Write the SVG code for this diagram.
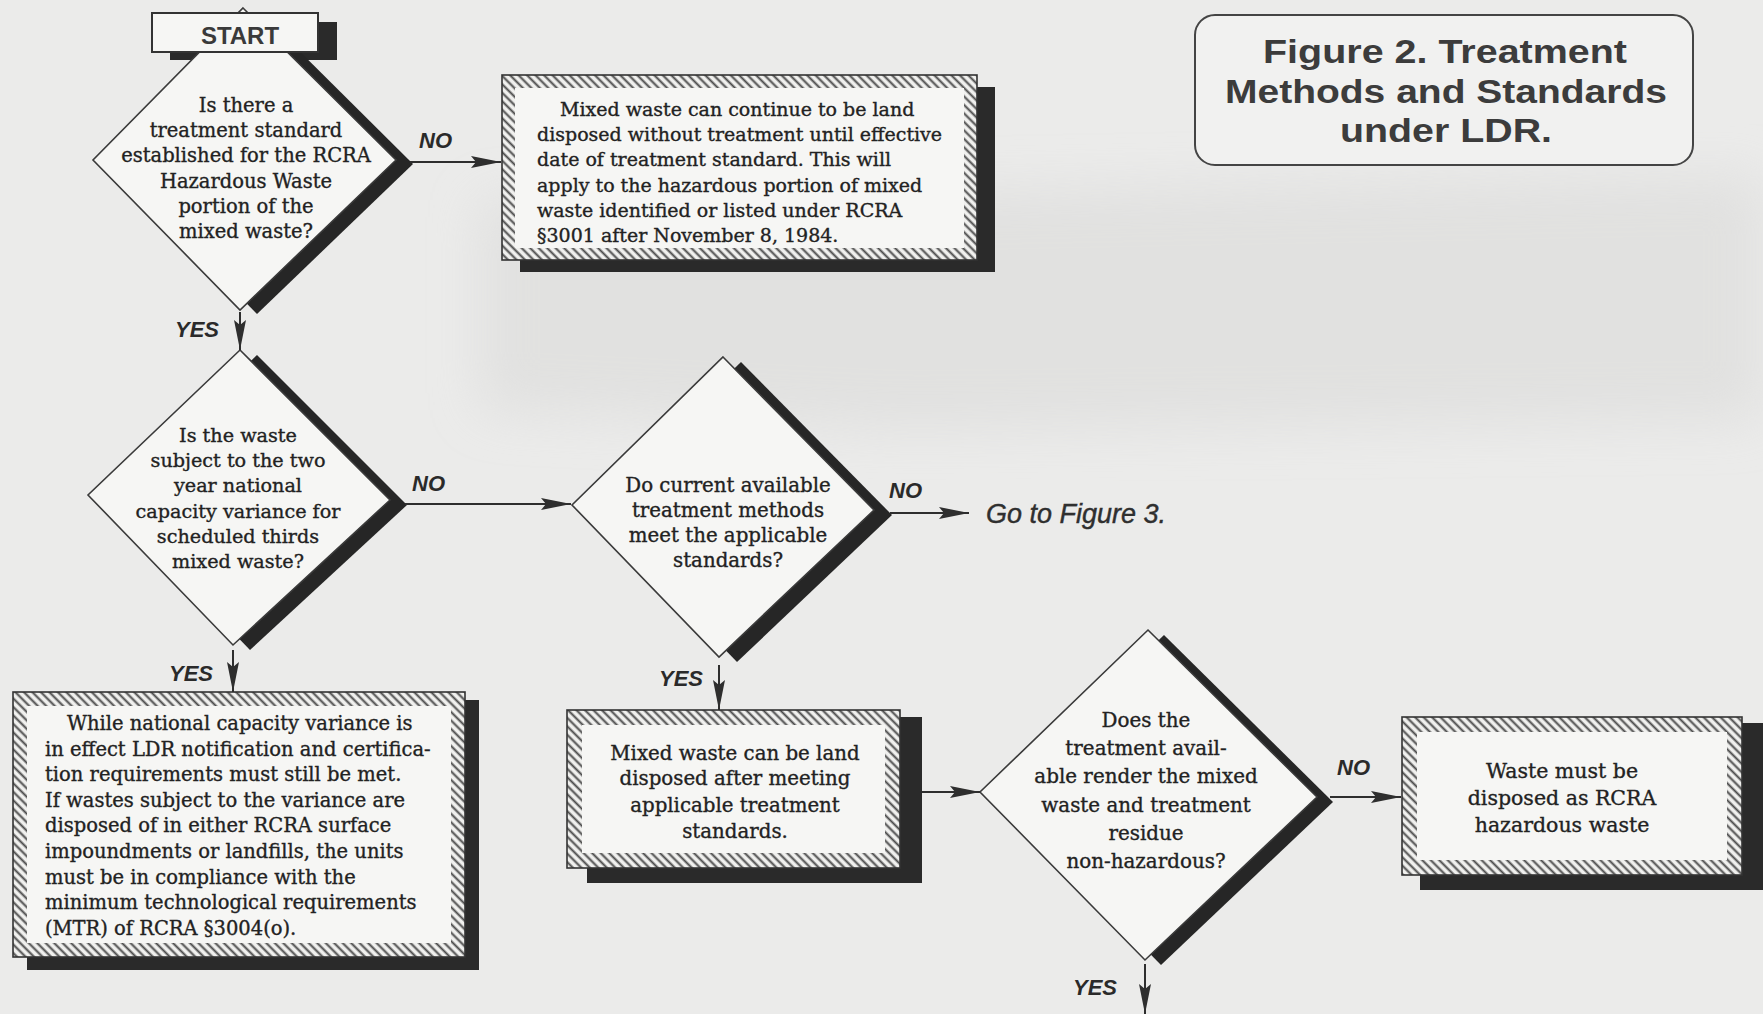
<svg xmlns="http://www.w3.org/2000/svg" width="1763" height="1014" viewBox="0 0 1763 1014">
<style>
.dia{fill:#f6f6f4;stroke:#3a3a3a;stroke-width:1.6}
.dsh{fill:#262626}
.bsh{fill:#2a2a2a}
.hbox{fill:url(#hatch);stroke:#333;stroke-width:1.6}
.inner{fill:#f6f6f4}
.t{font-family:"DejaVu Serif",serif;font-size:19.5px;fill:#222;stroke:#222;stroke-width:0.35}
.c{text-anchor:middle}
.lab{font-family:"Liberation Sans",Arial,sans-serif;font-weight:bold;font-style:italic;font-size:22px;fill:#2a2a2a}
.conn{stroke:#2e2e2e;stroke-width:2;fill:none;marker-end:url(#arr)}
.title{font-family:"Liberation Sans",Arial,sans-serif;font-weight:bold;font-size:33px;fill:#3c3c3c;text-anchor:middle}
</style>
<defs>
<pattern id="hatch" width="6" height="6" patternUnits="userSpaceOnUse" patternTransform="rotate(-45)">
<rect width="6" height="6" fill="#f0f0ee"/>
<line x1="1.5" y1="0" x2="1.5" y2="6" stroke="#4a4a4a" stroke-width="2"/>
</pattern>
<marker id="arr" markerUnits="userSpaceOnUse" markerWidth="32" markerHeight="12" refX="30" refY="6" orient="auto">
<path d="M0,0 L30,6 L0,12 L5,6 z" fill="#2e2e2e"/>
</marker>
<filter id="blur" x="-20%" y="-20%" width="140%" height="140%"><feGaussianBlur stdDeviation="25"/></filter>
</defs>

<rect width="1763" height="1014" fill="#ebebea"/>
<path d="M480,200 L1763,175 L1763,420 L900,430 L480,410 Z" fill="#d9d9d8" opacity="0.55" filter="url(#blur)"/>

<g id="title">
<rect x="1195" y="15" width="498" height="150" rx="20" fill="#f1f1f0" stroke="#444" stroke-width="2"/>
<text class="title" x="1445" y="63" textLength="364" lengthAdjust="spacingAndGlyphs">Figure 2. Treatment</text>
<text class="title" x="1446" y="103" textLength="442" lengthAdjust="spacingAndGlyphs">Methods and Standards</text>
<text class="title" x="1446" y="142" textLength="212" lengthAdjust="spacingAndGlyphs">under LDR.</text>
</g>

<g id="start-shadow"><rect class="bsh" x="170" y="22" width="167" height="38"/></g>

<g id="q1">
<polygon class="dsh" points="243,8 396,160 240,310 93,160" transform="translate(17,4)"/>
<polygon class="dia" points="243,8 396,160 240,310 93,160"/>
<text class="t c" x="246" y="112">Is there a</text>
<text class="t c" x="246" y="137">treatment standard</text>
<text class="t c" x="246" y="162">established for the RCRA</text>
<text class="t c" x="246" y="188">Hazardous Waste</text>
<text class="t c" x="246" y="213">portion of the</text>
<text class="t c" x="246" y="238">mixed waste?</text>
</g>

<g id="start">
<rect x="152" y="13" width="166" height="39" fill="#f6f6f4" stroke="#333" stroke-width="2"/>
<text x="240" y="44" font-family="Liberation Sans, Arial, sans-serif" font-weight="bold" font-size="24" fill="#3a3a3a" text-anchor="middle">START</text>
</g>

<g id="box-continue">
<rect class="bsh" x="520" y="87" width="475" height="185"/>
<rect class="hbox" x="502" y="75" width="475" height="185"/>
<rect class="inner" x="515" y="88" width="449" height="160"/>
<text class="t" x="560" y="116" style="font-size:19px">Mixed waste can continue to be land</text>
<text class="t" x="537" y="141" style="font-size:19px">disposed without treatment until effective</text>
<text class="t" x="537" y="166" style="font-size:19px">date of treatment standard. This will</text>
<text class="t" x="537" y="192" style="font-size:19px">apply to the hazardous portion of mixed</text>
<text class="t" x="537" y="217" style="font-size:19px">waste identified or listed under RCRA</text>
<text class="t" x="537" y="242" style="font-size:19px">§3001 after November 8, 1984.</text>
</g>

<g id="q2">
<polygon class="dsh" points="240,350 390,500 233,645 88,495" transform="translate(17,5)"/>
<polygon class="dia" points="240,350 390,500 233,645 88,495"/>
<text class="t c" x="238" y="442" style="font-size:19.2px">Is the waste</text>
<text class="t c" x="238" y="467" style="font-size:19.2px">subject to the two</text>
<text class="t c" x="238" y="492" style="font-size:19.2px">year national</text>
<text class="t c" x="238" y="518" style="font-size:19.2px">capacity variance for</text>
<text class="t c" x="238" y="543" style="font-size:19.2px">scheduled thirds</text>
<text class="t c" x="238" y="568" style="font-size:19.2px">mixed waste?</text>
</g>

<g id="q3">
<polygon class="dsh" points="723,357 874,510 719,657 572,505" transform="translate(18,5)"/>
<polygon class="dia" points="723,357 874,510 719,657 572,505"/>
<text class="t c" x="728" y="492" style="font-size:19.8px">Do current available</text>
<text class="t c" x="728" y="517" style="font-size:19.8px">treatment methods</text>
<text class="t c" x="728" y="542" style="font-size:19.8px">meet the applicable</text>
<text class="t c" x="728" y="567" style="font-size:19.8px">standards?</text>
</g>

<g id="goto">
<text x="986" y="523" font-family="Liberation Sans, Arial, sans-serif" font-style="italic" font-size="27" fill="#2f2f2f" stroke="#2f2f2f" stroke-width="0.4">Go to Figure 3.</text>
</g>

<g id="box-variance">
<rect class="bsh" x="27" y="700" width="452" height="270"/>
<rect class="hbox" x="13" y="692" width="452" height="265"/>
<rect class="inner" x="27" y="706" width="424" height="237"/>
<text class="t" x="67" y="730">While national capacity variance is</text>
<text class="t" x="45" y="756">in effect LDR notification and certifica-</text>
<text class="t" x="45" y="781">tion requirements must still be met.</text>
<text class="t" x="45" y="807">If wastes subject to the variance are</text>
<text class="t" x="45" y="832">disposed of in either RCRA surface</text>
<text class="t" x="45" y="858">impoundments or landfills, the units</text>
<text class="t" x="45" y="884">must be in compliance with the</text>
<text class="t" x="45" y="909">minimum technological requirements</text>
<text class="t" x="45" y="935">(MTR) of RCRA §3004(o).</text>
</g>

<g id="box-land">
<rect class="bsh" x="587" y="717" width="335" height="166"/>
<rect class="hbox" x="567" y="710" width="333" height="158"/>
<rect class="inner" x="582" y="725" width="303" height="128"/>
<text class="t c" x="735" y="760" style="font-size:19.8px">Mixed waste can be land</text>
<text class="t c" x="735" y="785" style="font-size:19.8px">disposed after meeting</text>
<text class="t c" x="735" y="812" style="font-size:19.8px">applicable treatment</text>
<text class="t c" x="735" y="838" style="font-size:19.8px">standards.</text>
</g>

<g id="q4">
<polygon class="dsh" points="1148,630 1317,797 1145,960 980,792" transform="translate(16,5)"/>
<polygon class="dia" points="1148,630 1317,797 1145,960 980,792"/>
<text class="t c" x="1146" y="727" style="font-size:19.9px">Does the</text>
<text class="t c" x="1146" y="755" style="font-size:19.9px">treatment avail-</text>
<text class="t c" x="1146" y="783" style="font-size:19.9px">able render the mixed</text>
<text class="t c" x="1146" y="812" style="font-size:19.9px">waste and treatment</text>
<text class="t c" x="1146" y="840" style="font-size:19.9px">residue</text>
<text class="t c" x="1146" y="868" style="font-size:19.9px">non-hazardous?</text>
</g>

<g id="box-hazardous">
<rect class="bsh" x="1420" y="723" width="343" height="167"/>
<rect class="hbox" x="1402" y="717" width="340" height="158"/>
<rect class="inner" x="1417" y="732" width="310" height="128"/>
<text class="t c" x="1562" y="778" style="font-size:20.5px">Waste must be</text>
<text class="t c" x="1562" y="805" style="font-size:20.5px">disposed as RCRA</text>
<text class="t c" x="1562" y="832" style="font-size:20.5px">hazardous waste</text>
</g>

<g id="connectors">
<line class="conn" x1="410" y1="162" x2="501" y2="162"/>
<line class="conn" x1="240" y1="312" x2="240" y2="350"/>
<line class="conn" x1="405" y1="504" x2="571" y2="504"/>
<line class="conn" x1="890" y1="513" x2="969" y2="513"/>
<line class="conn" x1="719" y1="665" x2="719" y2="710"/>
<line class="conn" x1="233" y1="650" x2="233" y2="692"/>
<line class="conn" x1="922" y1="792" x2="980" y2="792"/>
<line class="conn" x1="1330" y1="797" x2="1401" y2="797"/>
<line class="conn" x1="1145" y1="964" x2="1145" y2="1014"/>
<text class="lab" x="419" y="148">NO</text>
<text class="lab" x="175" y="337">YES</text>
<text class="lab" x="412" y="491">NO</text>
<text class="lab" x="889" y="498">NO</text>
<text class="lab" x="659" y="686">YES</text>
<text class="lab" x="169" y="681">YES</text>
<text class="lab" x="1337" y="775">NO</text>
<text class="lab" x="1073" y="995">YES</text>
</g>
</svg>
